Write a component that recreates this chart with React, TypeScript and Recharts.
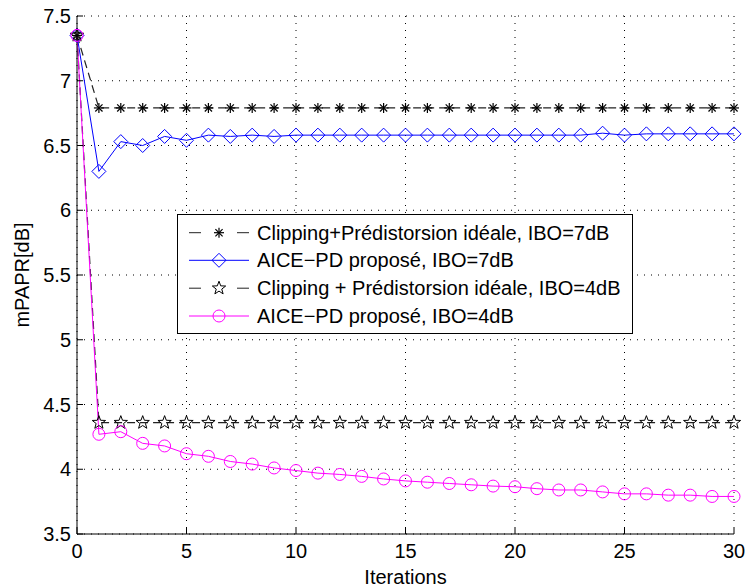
import React from 'react';
import { LineChart, Line, XAxis, YAxis, CartesianGrid, Legend } from 'recharts';

const FONT = '"Liberation Sans", Arial, Helvetica, sans-serif';

// x: iteration index
const iterations = [0, 1, 2, 3, 4, 5, 6, 7, 8, 9, 10, 11, 12, 13, 14, 15, 16, 17, 18, 19, 20, 21, 22, 23, 24, 25, 26, 27, 28, 29, 30];

// mPAPR [dB] per series
const clip7 = [7.35, 6.79, 6.79, 6.79, 6.79, 6.79, 6.79, 6.79, 6.79, 6.79, 6.79, 6.79, 6.79, 6.79, 6.79, 6.79, 6.79, 6.79, 6.79, 6.79, 6.79, 6.79, 6.79, 6.79, 6.79, 6.79, 6.79, 6.79, 6.79, 6.79, 6.79];
const aice7 = [7.35, 6.30, 6.53, 6.50, 6.57, 6.54, 6.58, 6.57, 6.58, 6.57, 6.58, 6.58, 6.58, 6.58, 6.58, 6.58, 6.58, 6.58, 6.58, 6.58, 6.58, 6.58, 6.58, 6.58, 6.595, 6.58, 6.59, 6.59, 6.59, 6.59, 6.59];
const clip4 = [7.35, 4.36, 4.36, 4.36, 4.36, 4.36, 4.36, 4.36, 4.36, 4.36, 4.36, 4.36, 4.36, 4.36, 4.36, 4.36, 4.36, 4.36, 4.36, 4.36, 4.36, 4.36, 4.36, 4.36, 4.36, 4.36, 4.36, 4.36, 4.36, 4.36, 4.36];
const aice4 = [7.35, 4.27, 4.29, 4.20, 4.18, 4.12, 4.10, 4.06, 4.04, 4.01, 3.99, 3.97, 3.96, 3.945, 3.925, 3.91, 3.90, 3.89, 3.88, 3.87, 3.865, 3.85, 3.84, 3.84, 3.825, 3.81, 3.81, 3.80, 3.80, 3.79, 3.79];

const xTicks = [0, 5, 10, 15, 20, 25, 30];
const yTicks = [3.5, 4, 4.5, 5, 5.5, 6, 6.5, 7, 7.5];

const legendLabels = [
  'Clipping+Prédistorsion idéale, IBO=7dB',
  'AICE\u2212PD proposé, IBO=7dB',
  'Clipping + Prédistorsion idéale, IBO=4dB',
  'AICE\u2212PD proposé, IBO=4dB',
];

const data = iterations.map((it, i) => ({ it, clip7: clip7[i], aice7: aice7[i], clip4: clip4[i], aice4: aice4[i] }));

const BLUE = '#0000ff';
const MAGENTA = '#ff00ff';
const DARK = '#222';

function asterisk(cx: number, cy: number, color: string) {
  const r = 5, d = 3.6;
  return (
    <g stroke={color} strokeWidth={1.2}>
      <line x1={cx} y1={cy - r} x2={cx} y2={cy + r} />
      <line x1={cx - r} y1={cy} x2={cx + r} y2={cy} />
      <line x1={cx - d} y1={cy - d} x2={cx + d} y2={cy + d} />
      <line x1={cx - d} y1={cy + d} x2={cx + d} y2={cy - d} />
    </g>
  );
}

function pentagram(cx: number, cy: number, color: string) {
  const pts: string[] = [];
  for (let k = 0; k < 10; k++) {
    const r = k % 2 === 0 ? 7 : 2.9;
    const a = -Math.PI / 2 + (k * Math.PI) / 5;
    pts.push(`${cx + r * Math.cos(a)},${cy + r * Math.sin(a)}`);
  }
  return <polygon points={pts.join(' ')} fill="none" stroke={color} strokeWidth={1} />;
}

function diamond(cx: number, cy: number, color: string) {
  const r = 7;
  return <polygon points={`${cx},${cy - r} ${cx + r},${cy} ${cx},${cy + r} ${cx - r},${cy}`} fill="none" stroke={color} strokeWidth={1} />;
}

function circle(cx: number, cy: number, color: string) {
  return <circle cx={cx} cy={cy} r={6} fill="none" stroke={color} strokeWidth={1} />;
}

const markerDot = (fn: (cx: number, cy: number, c: string) => React.ReactElement, color: string) => (p: any) => (
  <g key={`m-${p.index}`}>{fn(p.cx, p.cy, color)}</g>
);

const BottomTick = (p: any) => (
  <g>
    <line x1={p.x} y1={p.y} x2={p.x} y2={p.y - 6} stroke="#000" />
    <text x={p.x} y={p.y + 24} textAnchor="middle" fontSize={20} fontFamily={FONT} fill="#000">{p.payload.value}</text>
  </g>
);
const TopTick = (p: any) => <line x1={p.x} y1={p.y} x2={p.x} y2={p.y + 6} stroke="#000" />;
const LeftTick = (p: any) => (
  <g>
    <line x1={p.x} y1={p.y} x2={p.x + 6} y2={p.y} stroke="#000" />
    <text x={p.x - 6} y={p.y + 7} textAnchor="end" fontSize={20} fontFamily={FONT} fill="#000">{p.payload.value}</text>
  </g>
);
const RightTick = (p: any) => <line x1={p.x} y1={p.y} x2={p.x - 6} y2={p.y} stroke="#000" />;

function LegendBox() {
  const rows = [18.7, 46.3, 74.2, 102];
  const swatch = [
    (cy: number) => (
      <g>
        <line x1={12} y1={cy} x2={24} y2={cy} stroke={DARK} />
        <line x1={60} y1={cy} x2={72} y2={cy} stroke={DARK} />
        {asterisk(42, cy, '#000')}
      </g>
    ),
    (cy: number) => (
      <g>
        <line x1={12} y1={cy} x2={72} y2={cy} stroke={BLUE} />
        {diamond(42, cy, BLUE)}
      </g>
    ),
    (cy: number) => (
      <g>
        <line x1={12} y1={cy} x2={24} y2={cy} stroke={DARK} />
        <line x1={60} y1={cy} x2={72} y2={cy} stroke={DARK} />
        {pentagram(42, cy, '#000')}
      </g>
    ),
    (cy: number) => (
      <g>
        <line x1={12} y1={cy} x2={72} y2={cy} stroke={MAGENTA} />
        {circle(42, cy, MAGENTA)}
      </g>
    ),
  ];
  return (
    <svg width={456} height={120} style={{ display: 'block' }}>
      <rect x={0.5} y={0.5} width={455} height={119} fill="#fff" stroke="#000" />
      {legendLabels.map((label, i) => (
        <g key={label}>
          {swatch[i](rows[i])}
          <text x={80} y={rows[i] + 7} fontSize={20} fontFamily={FONT} fill="#000">{label}</text>
        </g>
      ))}
    </svg>
  );
}

export default function App() {
  return (
    <div style={{ position: 'absolute', left: 0, top: 0, background: '#fff' }}>
      <LineChart width={747} height={588} data={data} margin={{ top: 16, right: 13, left: 0, bottom: 0 }}>
        <CartesianGrid stroke="#000" strokeDasharray="1 6" strokeWidth={1} />
        <XAxis dataKey="it" type="number" domain={[0, 30]} ticks={xTicks} interval={0} height={54}
          tickSize={0} tickMargin={0} tickLine={false} tick={<BottomTick />} axisLine={{ stroke: '#000' }}
          label={{ value: 'Iterations', position: 'insideBottom', offset: 4, fontSize: 20, fontFamily: FONT, fill: '#000' }} />
        <XAxis xAxisId="top" dataKey="it" type="number" domain={[0, 30]} ticks={xTicks} interval={0} height={0}
          orientation="top" allowDataOverflow tickSize={0} tickMargin={0} tickLine={false} tick={<TopTick />} axisLine={{ stroke: '#000' }} />
        <YAxis type="number" domain={[3.5, 7.5]} ticks={yTicks} interval={0} width={77}
          tickSize={0} tickMargin={0} tickLine={false} tick={<LeftTick />} axisLine={{ stroke: '#000' }}
          label={{ value: 'mPAPR[dB]', angle: -90, position: 'insideLeft', offset: 22, fontSize: 20, fontFamily: FONT, fill: '#000', style: { textAnchor: 'middle' } }} />
        <YAxis yAxisId="right" type="number" domain={[3.5, 7.5]} ticks={yTicks} interval={0} width={0}
          orientation="right" allowDataOverflow tickSize={0} tickMargin={0} tickLine={false} tick={<RightTick />} axisLine={{ stroke: '#000' }} />
        <Legend layout="horizontal" verticalAlign="middle" align="center" content={() => <LegendBox />}
          wrapperStyle={{ left: 177, top: 214, width: 456, height: 120 }} />
        <Line dataKey="clip7" stroke={DARK} strokeWidth={1.2} strokeDasharray="8 5" dot={markerDot(asterisk, '#000')} activeDot={false} isAnimationActive={false} />
        <Line dataKey="aice7" stroke={BLUE} strokeWidth={1} dot={markerDot(diamond, BLUE)} activeDot={false} isAnimationActive={false} />
        <Line dataKey="clip4" stroke={DARK} strokeWidth={1.2} strokeDasharray="8 5" dot={markerDot(pentagram, '#000')} activeDot={false} isAnimationActive={false} />
        <Line dataKey="aice4" stroke={MAGENTA} strokeWidth={1} dot={markerDot(circle, MAGENTA)} activeDot={false} isAnimationActive={false} />
      </LineChart>
    </div>
  );
}
